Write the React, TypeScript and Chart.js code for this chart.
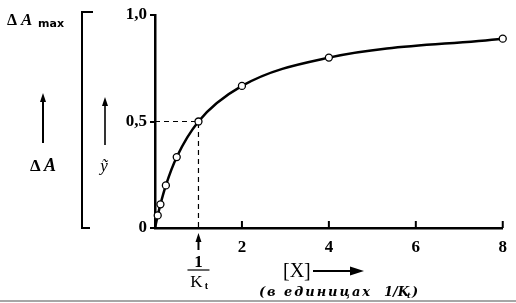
import React, { useEffect, useRef } from "react";
import { Chart, registerables } from "chart.js";

Chart.register(...registerables);

// Measured saturation curve (x in units of 1/K_t, y = fractional saturation)
const xValues = [0, 0.0625, 0.125, 0.25, 0.5, 1, 2, 4, 8];
const yValues = [0, 0.059, 0.111, 0.2, 0.333, 0.5, 0.667, 0.8, 0.889];
const pointShown = [false, true, true, true, true, true, true, true, true];

// Dashed guide to the half-saturation point
const guideX = [0, 1, 1];
const guideY = [0.5, 0.5, 0];

const xTickValues = [2, 4, 6, 8];
const xTickLabels = ["2", "4", "6", "8"];
const yTickValues = [0, 0.5, 1];
const yTickLabels = ["0", "0,5", "1,0"];

const SERIF = "'Liberation Serif', 'DejaVu Serif', serif";
const WIDE_SERIF = "'DejaVu Serif', serif";

function arrowUp(ctx: CanvasRenderingContext2D, x: number, y1: number, y2: number, w = 1.6) {
  ctx.save();
  ctx.strokeStyle = "#000";
  ctx.fillStyle = "#000";
  ctx.lineWidth = w;
  ctx.beginPath();
  ctx.moveTo(x, y2);
  ctx.lineTo(x, y1 + 6);
  ctx.stroke();
  ctx.beginPath();
  ctx.moveTo(x, y1);
  ctx.lineTo(x - 3, y1 + 9);
  ctx.lineTo(x + 3, y1 + 9);
  ctx.closePath();
  ctx.fill();
  ctx.restore();
}

function fitText(ctx: CanvasRenderingContext2D, text: string, x: number, y: number, width: number) {
  (ctx as any).letterSpacing = "0px";
  const w = ctx.measureText(text).width;
  const sp = Math.max(0, (width - w) / text.length);
  (ctx as any).letterSpacing = `${sp}px`;
  ctx.fillText(text, x, y);
  (ctx as any).letterSpacing = "0px";
}

const decorPlugin = {
  id: "decor",
  afterDraw(chart: any) {
    const ctx: CanvasRenderingContext2D = chart.ctx;
    const xs = chart.scales.x;
    const ys = chart.scales.y;
    const base = ys.getPixelForValue(0);
    ctx.save();
    // upward x tick marks
    ctx.strokeStyle = "#000";
    ctx.lineWidth = 2;
    xTickValues.forEach((v) => {
      const px = xs.getPixelForValue(v);
      ctx.beginPath();
      ctx.moveTo(px, base);
      ctx.lineTo(px, base - 7);
      ctx.stroke();
    });

    ctx.fillStyle = "#000";
    ctx.textBaseline = "alphabetic";
    // ΔA max
    ctx.font = `bold 16px ${SERIF}`;
    ctx.textAlign = "left";
    ctx.fillText("Δ", 7, 25);
    ctx.font = `bold italic 17px ${SERIF}`;
    ctx.fillText("A", 21, 25);
    ctx.font = `bold 11px 'DejaVu Sans', sans-serif`;
    ctx.fillText("max", 38, 27);

    // left arrow and ΔA
    arrowUp(ctx, 43, 93, 143, 2);
    ctx.font = `bold 17px ${SERIF}`;
    ctx.fillText("Δ", 30, 171);
    ctx.font = `bold italic 18px ${SERIF}`;
    ctx.fillText("A", 44, 171);

    // bracket
    ctx.lineWidth = 2;
    ctx.beginPath();
    ctx.moveTo(93, 12);
    ctx.lineTo(82, 12);
    ctx.lineTo(82, 228);
    ctx.lineTo(90, 228);
    ctx.stroke();

    // second arrow and ỹ
    arrowUp(ctx, 105, 97, 145, 1.6);
    ctx.font = `italic 17px ${SERIF}`;
    ctx.textAlign = "center";
    ctx.fillText("ỹ", 104, 171);

    // 1/K_t under x axis
    const p1 = xs.getPixelForValue(guideX[1]);
    arrowUp(ctx, p1, 233, 250, 2);
    ctx.font = `bold 17px ${SERIF}`;
    ctx.fillText("1", p1, 267);
    ctx.lineWidth = 1.2;
    ctx.beginPath();
    ctx.moveTo(p1 - 11, 270);
    ctx.lineTo(p1 + 11, 270);
    ctx.stroke();
    ctx.font = `17px ${SERIF}`;
    ctx.fillText("K", p1 - 2, 287);
    ctx.font = `bold 10px ${SERIF}`;
    ctx.fillText("t", p1 + 8, 289);

    // [X] arrow
    ctx.textAlign = "left";
    ctx.font = `20px ${SERIF}`;
    ctx.fillText("[X]", 283, 277);
    ctx.lineWidth = 1.8;
    ctx.beginPath();
    ctx.moveTo(313, 271);
    ctx.lineTo(356, 271);
    ctx.stroke();
    ctx.beginPath();
    ctx.moveTo(364, 271);
    ctx.lineTo(350, 266.5);
    ctx.lineTo(350, 275.5);
    ctx.closePath();
    ctx.fill();

    ctx.font = `bold italic 13px ${WIDE_SERIF}`;
    fitText(ctx, "(в единицах", 259, 296, 113);
    fitText(ctx, "1/K", 384, 296, 24);
    ctx.font = `bold italic 8px ${WIDE_SERIF}`;
    ctx.fillText("t", 407, 298);
    ctx.font = `bold italic 13px ${WIDE_SERIF}`;
    ctx.fillText(")", 412, 296);

    // bottom scan edge
    ctx.strokeStyle = "#888";
    ctx.lineWidth = 1.5;
    ctx.beginPath();
    ctx.moveTo(0, 301);
    ctx.lineTo(516, 301);
    ctx.stroke();
    ctx.restore();
  },
};

export default function App() {
  const ref = useRef<HTMLCanvasElement>(null);
  useEffect(() => {
    if (!ref.current) return;
    const chart = new Chart(ref.current, {
      type: "line",
      data: {
        datasets: [
          {
            data: xValues.map((x, i) => ({ x, y: yValues[i] })),
            borderColor: "#000",
            borderWidth: 2.5,
            cubicInterpolationMode: "monotone",
            pointRadius: pointShown.map((s) => (s ? 3.5 : 0)),
            pointBackgroundColor: "#fff",
            pointBorderColor: "#000",
            pointBorderWidth: 1.3,
            clip: false as any,
          },
          {
            data: guideX.map((x, i) => ({ x, y: guideY[i] })),
            borderColor: "#000",
            borderWidth: 1.2,
            borderDash: [5, 4],
            pointRadius: 0,
            tension: 0,
          },
        ],
      },
      plugins: [decorPlugin],
      options: {
        animation: false,
        responsive: false,
        events: [],
        layout: { padding: { left: 0, top: 15, right: 9, bottom: 0 } },
        plugins: { legend: { display: false }, tooltip: { enabled: false } },
        scales: {
          x: {
            type: "linear",
            min: 0,
            max: 8,
            afterFit: (s: any) => {
              s.height = 75;
            },
            afterBuildTicks: (s: any) => {
              s.ticks = xTickValues.map((v) => ({ value: v }));
            },
            ticks: {
              padding: 9,
              color: "#000",
              font: { family: SERIF, size: 17, weight: "bold" },
              callback: (v: any) => xTickLabels[xTickValues.indexOf(Number(v))] ?? "",
            },
            grid: { display: true, drawOnChartArea: false, drawTicks: false, color: "#000" },
            border: { display: true, color: "#000", width: 2.5 },
          },
          y: {
            type: "linear",
            min: 0,
            max: 1,
            afterFit: (s: any) => {
              s.width = 155;
            },
            afterBuildTicks: (s: any) => {
              s.ticks = yTickValues.map((v) => ({ value: v }));
            },
            ticks: {
              padding: 3,
              color: "#000",
              font: { family: SERIF, size: 17, weight: "bold" },
              callback: (v: any) => yTickLabels[yTickValues.indexOf(Number(v))] ?? "",
            },
            grid: { display: true, drawOnChartArea: false, drawTicks: true, tickLength: 5, color: "#000", lineWidth: 2 },
            border: { display: true, color: "#000", width: 2.5 },
          },
        },
      },
    });
    return () => chart.destroy();
  }, []);
  return (
    <div style={{ position: "fixed", left: 0, top: 0, width: 516, height: 303, background: "#fff" }}>
      <canvas ref={ref} width={516} height={303} style={{ display: "block" }} />
    </div>
  );
}
